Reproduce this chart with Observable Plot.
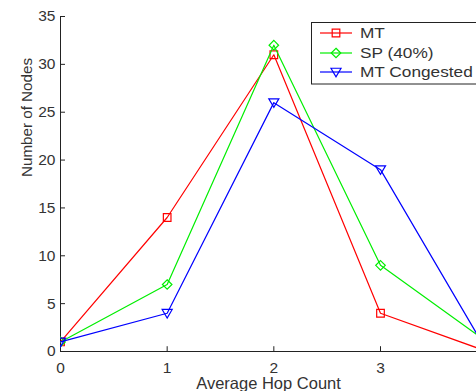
<!DOCTYPE html>
<html>
<head>
<meta charset="utf-8">
<script src="https://cdn.jsdelivr.net/npm/d3@7"></script>
<script src="https://cdn.jsdelivr.net/npm/@observablehq/plot@0.6"></script>
<style>
  html, body { margin: 0; padding: 0; background: #fff; overflow: hidden; }
  #wrap { position: relative; width: 476px; height: 391px; overflow: hidden; }
  #wrap svg text { font-family: 'Liberation Sans', Arial, sans-serif; }
</style>
</head>
<body>
<div id="wrap"></div>
<script>
// ---- data ----
const hopCounts = [0, 1, 2, 3, 4];
const seriesNames = ["MT", "SP (40%)", "MT Congested"];
const mtValues = [1, 14, 31, 4, 0];
const spValues = [1, 7, 32, 9, 1];
const mtCongestedValues = [1, 4, 26, 19, 0];
const xTicks = [0, 1, 2, 3];
const yTicks = [0, 5, 10, 15, 20, 25, 30, 35];
const xLabel = "Average Hop Count";
const yLabel = "Number of Nodes";

// ---- styles ----
const colors = ["#ff0000", "#00ee00", "#0000ff"];
const triangleDown = {
  draw(context, size) {
    const s = Math.sqrt(size) * 0.66;
    context.moveTo(-s, -s * 0.75);
    context.lineTo(s, -s * 0.75);
    context.lineTo(0, s * 0.95);
    context.closePath();
  }
};
const symbols = ["square", "diamond2", triangleDown];

const valueSets = [mtValues, spValues, mtCongestedValues];
const rows = [];
seriesNames.forEach((name, i) => {
  hopCounts.forEach((h, j) => rows.push({series: name, hop: h, value: valueSets[i][j]}));
});

const marks = [];
marks.push(Plot.ruleX([0], {y1: 0, y2: 35, stroke: "#222"}));
marks.push(Plot.ruleY([0], {stroke: "#222"}));
marks.push(Plot.ruleY(yTicks, {x1: 0, x2: 0.047, stroke: "#222"}));
marks.push(Plot.ruleX(xTicks, {y1: 0, y2: 0.5, stroke: "#222"}));
marks.push(Plot.axisX({ticks: xTicks, tickSize: 0, tickPadding: 10, label: null, tickFormat: d3.format("d"), fontSize: 15.5, fill: "#333"}));
marks.push(Plot.axisY({ticks: yTicks, tickSize: 0, tickPadding: 5, label: null, tickFormat: d3.format("d"), fontSize: 15.5, fill: "#333"}));
marks.push(Plot.text([xLabel], {frameAnchor: "bottom", lineAnchor: "middle", dy: 32, fontSize: 16.5, fill: "#333"}));
marks.push(Plot.text([yLabel], {frameAnchor: "left", dx: -33, dy: -7, rotate: -90, fontSize: 15.2, fill: "#333"}));

seriesNames.forEach((name, i) => {
  const d = rows.filter(r => r.series === name);
  marks.push(Plot.line(d, {x: "hop", y: "value", stroke: colors[i], strokeWidth: 1.2, clip: true}));
  marks.push(Plot.dot(d, {x: "hop", y: "value", stroke: colors[i], strokeWidth: 1.2, fill: "none", symbol: () => symbols[i], r: 4.3, clip: true}));
});

const chart = Plot.plot({
  width: 476,
  height: 391,
  marginLeft: 60,
  marginRight: 0,
  marginTop: 16,
  marginBottom: 40,
  x: {domain: [0, 3.9], axis: null},
  y: {domain: [0, 35], axis: null},
  symbol: {type: "identity"},
  style: {fontFamily: "'Liberation Sans', Arial, sans-serif", fontSize: "15px", background: "#fff", color: "#222"},
  marks
});
document.getElementById("wrap").appendChild(chart);

// ---- legend ----
const ns = "http://www.w3.org/2000/svg";
const lg = document.createElementNS(ns, "svg");
lg.setAttribute("width", 170);
lg.setAttribute("height", 64);
lg.style.position = "absolute";
lg.style.left = "311px";
lg.style.top = "22px";
const box = document.createElementNS(ns, "rect");
box.setAttribute("x", 0.5); box.setAttribute("y", 0.5);
box.setAttribute("width", 200); box.setAttribute("height", 61.5);
box.setAttribute("fill", "#fff"); box.setAttribute("stroke", "#222");
lg.appendChild(box);
const rowY = [11, 31, 50];
seriesNames.forEach((name, i) => {
  const y = rowY[i];
  const ln = document.createElementNS(ns, "line");
  ln.setAttribute("x1", 9); ln.setAttribute("x2", 41);
  ln.setAttribute("y1", y); ln.setAttribute("y2", y);
  ln.setAttribute("stroke", colors[i]); ln.setAttribute("stroke-width", 1.2);
  lg.appendChild(ln);
  const p = d3.path();
  const sym = typeof symbols[i] === "string"
    ? (symbols[i] === "square" ? d3.symbolSquare : d3.symbolDiamond2)
    : symbols[i];
  sym.draw(p, 4.3 * 4.3 * Math.PI);
  const path = document.createElementNS(ns, "path");
  path.setAttribute("d", p.toString());
  path.setAttribute("transform", `translate(25,${y})`);
  path.setAttribute("fill", "none");
  path.setAttribute("stroke", colors[i]); path.setAttribute("stroke-width", 1.2);
  lg.appendChild(path);
  const t = document.createElementNS(ns, "text");
  t.textContent = name;
  t.setAttribute("transform", `translate(49,${y}) scale(1.15,1)`);
  t.setAttribute("dy", "0.36em");
  t.setAttribute("font-size", 15);
  t.setAttribute("fill", "#333");
  lg.appendChild(t);
});
document.getElementById("wrap").appendChild(lg);
</script>
</body>
</html>
